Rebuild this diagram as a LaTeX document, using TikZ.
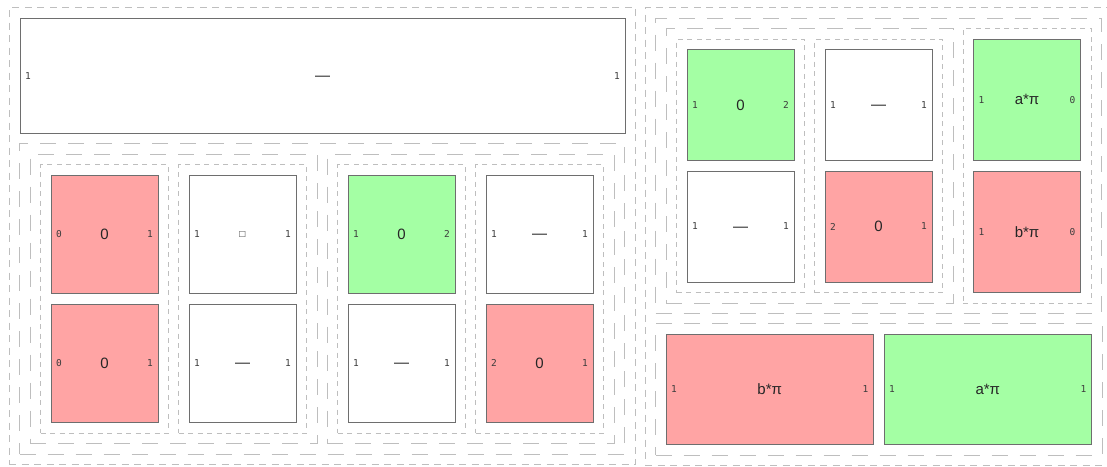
\documentclass[tikz,border=0pt]{standalone}
\usepackage{fontspec}
\setmainfont{Liberation Sans}
\newfontfamily\portfont{DejaVu Sans Mono}
\usetikzlibrary{positioning,fit}
\definecolor{xred}{HTML}{FFA4A4}
\definecolor{zgreen}{HTML}{A4FFA4}
\definecolor{edgegray}{HTML}{6E6E6E}
\definecolor{dashgray}{HTML}{BEBEBE}
\definecolor{portgray}{HTML}{3C3C3C}
\newcommand\idline{\raisebox{-4.5pt}[0pt][0pt]{—}}
\newcommand\hsquare{\raisebox{-3.5pt}[0pt][0pt]{\fontsize{10}{12}\selectfont □}}
\tikzset{
  spider/.style={
    draw=edgegray, line width=0.9pt, anchor=north west,
    inner sep=0pt, outer sep=0pt, text=black!85,
    minimum width=107pt, minimum height=118.5pt,
    font=\fontsize{15}{18}\selectfont
  },
  zsp/.style={spider, fill=zgreen},
  xsp/.style={spider, fill=xred},
  idsp/.style={spider, fill=white},
  port/.style={font=\portfont\fontsize{9.5}{11}\selectfont, text=portgray, inner sep=5pt},
  ports/.style 2 args={
    label={[port, anchor=west]west:#1},
    label={[port, anchor=east]east:#2}
  },
  frame/.style={draw=dashgray, line width=0.8pt, inner sep=10.5pt, outer sep=0pt,
    dash pattern=on 5pt off 4.5pt},
  midframe/.style={frame, dash pattern=on 16pt off 12pt},
  outframe/.style={frame, dash pattern=on 7pt off 5.5pt}
}

\begin{document}
\begin{tikzpicture}[x=1pt, y=-1pt, node distance=10.5pt]
  \useasboundingbox (0,0) rectangle (1107,466);
  \clip (0,0) rectangle (1107,466);

  % --- left half -------------------------------------------------------
  \node[idsp, minimum width=605pt, minimum height=115.5pt, ports={1}{1}] (wtop) at (20,18) {\idline};
  \node[xsp, ports={0}{1}, below right=41.5pt and 31pt of wtop.south west] (x1) {0};
  \node[xsp, ports={0}{1}, below=of x1] (x2) {0};
  \node[idsp, ports={1}{1}, right=31pt of x1] (h1) {\hsquare};
  \node[idsp, ports={1}{1}, below=of h1] (id1) {\idline};
  \node[zsp, ports={1}{2}, right=52pt of h1] (z1) {0};
  \node[idsp, ports={1}{1}, below=of z1] (id2) {\idline};
  \node[idsp, ports={1}{1}, right=31pt of z1] (id3) {\idline};
  \node[xsp, ports={2}{1}, below=of id3] (x3) {0};

  \node[frame, fit=(x1)(x2)] (fx) {};
  \node[frame, fit=(h1)(id1)] (fh) {};
  \node[frame, fit=(z1)(id2)] (fz) {};
  \node[frame, fit=(id3)(x3)] (fi) {};
  \node[midframe, fit=(fx)(fh)] (fxh) {};
  \node[midframe, fit=(fz)(fi)] (fzi) {};
  \node[midframe, fit=(fxh)(fzi)] (fbot) {};
  \node[outframe, fit=(wtop)(fbot)] (fleft) {};

  % --- right half ------------------------------------------------------
  \node[zsp, minimum height=111pt, ports={1}{2}] (z2) at (687,49.5) {0};
  \node[idsp, minimum height=111pt, ports={1}{1}, below=of z2] (id4) {\idline};
  \node[idsp, minimum height=111pt, ports={1}{1}, right=31pt of z2] (id5) {\idline};
  \node[xsp, minimum height=111pt, ports={2}{1}, below=of id5] (x4) {0};
  \node[zsp, minimum height=121.5pt, ports={1}{0}] (za) at (973.5,39) {a*π};
  \node[xsp, minimum height=121.5pt, ports={1}{0}, below=of za] (xb) {b*π};
  \node[xsp, minimum width=207.5pt, minimum height=110.5pt, ports={1}{1}] (xb2) at (666,334) {b*π};
  \node[zsp, minimum width=207.5pt, minimum height=110.5pt, ports={1}{1}, right=of xb2] (za2) {a*π};

  \node[frame, fit=(z2)(id4)] (fz2) {};
  \node[frame, fit=(id5)(x4)] (fi2) {};
  \node[midframe, fit=(fz2)(fi2)] (fzi2) {};
  \node[frame, fit=(za)(xb)] (fab) {};
  \node[midframe, fit=(fzi2)(fab)] (ftop) {};
  \node[midframe, fit=(xb2)(za2)] (fba) {};
  \node[outframe, fit=(ftop)(fba)] (fright) {};
\end{tikzpicture}
\end{document}
